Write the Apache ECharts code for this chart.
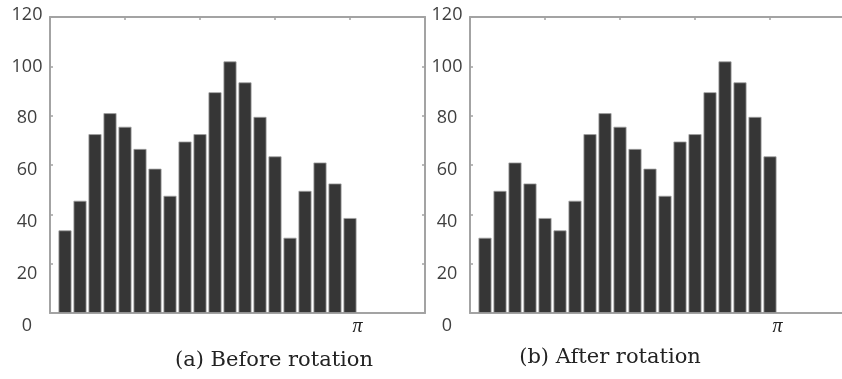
<!DOCTYPE html>
<html>
<head>
<meta charset="utf-8">
<script src="https://cdn.jsdelivr.net/npm/echarts@6/dist/echarts.min.js"></script>
<style>
  html, body { margin: 0; padding: 0; background: #fff; }
  #chart { width: 842px; height: 379px; }
</style>
</head>
<body>
<div id="chart"></div>
<script>
// Histogram bins (position of each bar along the angle axis) and counts
const bins = [1, 2, 3, 4, 5, 6, 7, 8, 9, 10, 11, 12, 13, 14, 15, 16, 17, 18, 19, 20]
const beforeCounts = [33.5, 45.5, 72.5, 81, 75.5, 66.5, 58.5, 47.5, 69.5, 72.5, 89.5, 102, 93.5, 79.5, 63.5, 30.5, 49.5, 61, 52.5, 38.5]
const afterCounts = [30.5, 49.5, 61, 52.5, 38.5, 33.5, 45.5, 72.5, 81, 75.5, 66.5, 58.5, 47.5, 69.5, 72.5, 89.5, 102, 93.5, 79.5, 63.5]
const yTicks = [0, 20, 40, 60, 80, 100, 120]
const piPosition = 20.5
const captions = ['(a) Before rotation', '(b) After rotation']

const axisGray = '#a3a3a3'
const labelColor = '#404040'

const chart = echarts.init(document.getElementById('chart'))

// the tick labels in the figure drift slightly from their ticks; mimic it with rich padding
const labelRich = {}
yTicks.forEach(v => {
  const shift = 13 - 0.129 * v
  labelRich['t' + v] = {
    fontFamily: 'Open Sans',
    fontSize: 18,
    color: labelColor,
    padding: shift >= 0 ? [shift * 2, 0, 0, 0] : [0, 0, -shift * 2, 0]
  }
})

const lineStyle = { color: axisGray, width: 2 }
const tickStyle = { color: axisGray, width: 1.5 }

function xAxes(gridIndex) {
  return [
    {
      type: 'value', gridIndex, position: 'bottom', min: 0, max: 25, interval: 5,
      axisLine: { show: true, onZero: false, lineStyle },
      axisTick: { show: false },
      splitLine: { show: false },
      axisLabel: {
        customValues: [piPosition],
        formatter: () => 'π',
        fontFamily: 'Liberation Serif',
        fontStyle: 'italic',
        fontSize: 20,
        color: '#222',
        margin: 4
      }
    },
    {
      type: 'value', gridIndex, position: 'top', min: 0, max: 25, interval: 5,
      axisLine: { show: true, onZero: false, lineStyle },
      axisTick: { show: true, inside: true, length: 3, lineStyle: tickStyle },
      splitLine: { show: false },
      axisLabel: { show: false }
    }
  ]
}

function yAxes(gridIndex) {
  return [
    {
      type: 'value', gridIndex, position: 'left', min: 0, max: 120, interval: 20,
      axisLine: { show: true, onZero: false, lineStyle },
      axisTick: { show: true, inside: true, length: 3, lineStyle: tickStyle },
      splitLine: { show: false },
      axisLabel: {
        align: 'center',
        margin: 23,
        formatter: v => `{t${v}|${v}}`,
        rich: labelRich
      }
    },
    {
      type: 'value', gridIndex, position: 'right', min: 0, max: 120, interval: 20,
      axisLine: { show: true, onZero: false, lineStyle },
      axisTick: { show: true, inside: true, length: 3, lineStyle: tickStyle },
      splitLine: { show: false },
      axisLabel: { show: false }
    }
  ]
}

function barSeries(counts, axisIndex) {
  return {
    type: 'bar',
    xAxisIndex: axisIndex,
    yAxisIndex: axisIndex,
    barWidth: 13,
    data: bins.map((b, i) => [b, counts[i]]),
    itemStyle: { color: '#363636', borderColor: '#a0a0a0', borderWidth: 0.8 },
    silent: true
  }
}

chart.setOption({
  animation: false,
  backgroundColor: '#fff',
  grid: [
    { left: 50, top: 17, width: 375, height: 296, outerBoundsMode: 'none' },
    // right panel runs past the page edge in the original figure
    { left: 470, top: 17, width: 375, height: 296, outerBoundsMode: 'none' }
  ],
  xAxis: [...xAxes(0), ...xAxes(1)],
  yAxis: [...yAxes(0), ...yAxes(1)],
  series: [
    barSeries(beforeCounts, 0),
    barSeries(afterCounts, 2)
  ],
  graphic: [
    {
      type: 'text', x: 274, y: 361,
      style: { text: captions[0], align: 'center', verticalAlign: 'middle', font: '21px "DejaVu Serif"', fill: '#222' }
    },
    {
      type: 'text', x: 610, y: 358,
      style: { text: captions[1], align: 'center', verticalAlign: 'middle', font: '21px "DejaVu Serif"', fill: '#222' }
    }
  ]
})
</script>
</body>
</html>
